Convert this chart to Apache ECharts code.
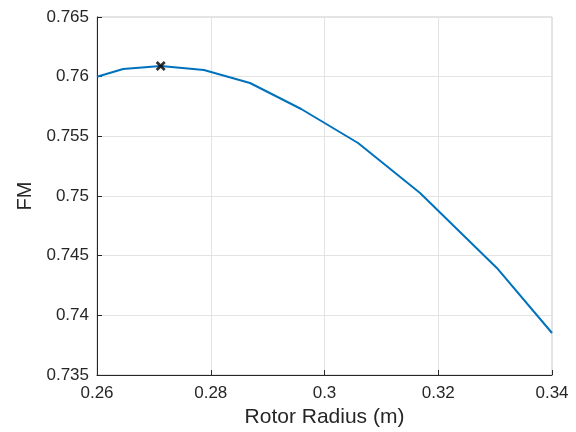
<!DOCTYPE html>
<html>
<head>
<meta charset="utf-8">
<script src="https://cdn.jsdelivr.net/npm/echarts@6/dist/echarts.min.js"></script>
<style>
  html, body { margin: 0; padding: 0; background: #fff; }
  #main { width: 576px; height: 432px; }
</style>
</head>
<body>
<div id="main"></div>
<script>
// rotor radius (m) vs figure of merit
var radius = [0.26, 0.2646, 0.2712, 0.2788, 0.2869, 0.2959, 0.3059, 0.3168, 0.3303, 0.34];
var fm = [0.7600, 0.76064, 0.76089, 0.76056, 0.75947, 0.75729, 0.75444, 0.75025, 0.74397, 0.73852];
var best = [0.2712, 0.76089];
var xTicks = [0.26, 0.28, 0.3, 0.32, 0.34];
var yTicks = [0.735, 0.74, 0.745, 0.75, 0.755, 0.76, 0.765];

var font = 'Liberation Sans, Arial, sans-serif';
var myChart = echarts.init(document.getElementById('main'));
var option = {
    animation: false,
    grid: {
        left: 97,
        right: 24,
        top: 17,
        bottom: 57,
        outerBoundsMode: 'none',
        show: true,
        borderColor: '#c8c8c8',
        borderWidth: 1
    },
    xAxis: {
        type: 'value',
        min: xTicks[0],
        max: xTicks[xTicks.length - 1],
        interval: 0.02,
        name: 'Rotor Radius (m)',
        nameLocation: 'middle',
        nameGap: 30,
        nameTextStyle: { fontFamily: font, fontSize: 21, color: '#262626' },
        axisLine: { lineStyle: { color: '#262626', width: 1 } },
        axisTick: { inside: true, length: 5, lineStyle: { color: '#262626' } },
        axisLabel: {
            fontFamily: font, fontSize: 17, color: '#262626', margin: 10,
            formatter: function (v) { return String(+v.toFixed(3)); }
        },
        splitLine: { show: true, lineStyle: { color: '#e3e3e3', width: 1 } }
    },
    yAxis: {
        type: 'value',
        min: yTicks[0],
        max: yTicks[yTicks.length - 1],
        interval: 0.005,
        name: 'FM',
        nameLocation: 'middle',
        nameGap: 62,
        nameRotate: 90,
        nameTextStyle: { fontFamily: font, fontSize: 20, color: '#262626' },
        axisLine: { show: true, lineStyle: { color: '#262626', width: 1 } },
        axisTick: { show: true, inside: true, length: 5, lineStyle: { color: '#262626' } },
        axisLabel: {
            fontFamily: font, fontSize: 17, color: '#262626', margin: 8,
            formatter: function (v) { return String(+v.toFixed(3)); }
        },
        splitLine: { show: true, lineStyle: { color: '#e3e3e3', width: 1 } }
    },
    series: [
        {
            type: 'line',
            data: radius.map(function (r, i) { return [r, fm[i]]; }),
            showSymbol: false,
            lineStyle: { color: '#0072BD', width: 2 },
            itemStyle: { color: '#0072BD' }
        },
        {
            type: 'scatter',
            data: [best],
            symbol: 'path://M0,2L2,0L5,3L8,0L10,2L7,5L10,8L8,10L5,7L2,10L0,8L3,5Z',
            symbolSize: 10,
            itemStyle: { color: '#000' },
            z: 5
        }
    ]
};
myChart.setOption(option);
</script>
</body>
</html>
